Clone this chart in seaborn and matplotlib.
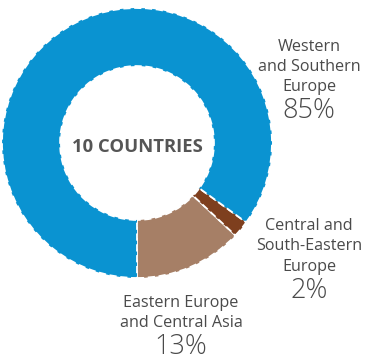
import matplotlib
matplotlib.use("Agg")
import matplotlib.pyplot as plt
import seaborn as sns

# Data
regions = ["Eastern Europe\nand Central Asia", "Central and\nSouth-Eastern\nEurope", "Western\nand Southern\nEurope"]
shares = [13, 2, 85]
pct_labels = ["13%", "2%", "85%"]
colors = ["#A67F66", "#7E3F1E", "#0A93D1"]
center_label = "10 COUNTRIES"

sns.set_theme(style="white")
plt.rcParams['font.family'] = ['Open Sans', 'DejaVu Sans']

W, H = 368, 362
fig = plt.figure(figsize=(W / 100, H / 100), dpi=100)
ax = fig.add_axes([0, 0, 1, 1])

cx, cy, R = 137, 143, 135

def px(x, y):
    return (x - cx) / R, (cy - y) / R

wedges, _ = ax.pie(shares, colors=colors, startangle=270, counterclock=True,
                   radius=1.0,
                   wedgeprops=dict(width=0.43, edgecolor='white', linewidth=1.3,
                                   linestyle=(0, (4, 2))))

ax.set_xlim(-cx / R, (W - cx) / R)
ax.set_ylim(-(H - cy) / R, cy / R)
ax.set_aspect('equal')
ax.axis('off')

tc = "#4A4A4A"
ax.text(*px(137, 147), center_label, ha='center', va='center',
        fontsize=13.3, fontweight='bold', color="#555555")

# label positions (x center, baselines of lines, baseline of percent)
label_pos = [
    (181, [307, 327], 354),
    (309, [230, 250, 271], 298),
    (309, [51, 71, 91], 118),
]
for name, pct, (x, bls, pbl) in zip(regions, pct_labels, label_pos):
    for line, b in zip(name.split("\n"), bls):
        ax.text(*px(x, b), line, ha='center', va='baseline', fontsize=11.6, color=tc)
    ax.text(*px(x, pbl), pct, ha='center', va='baseline', fontsize=19.5,
            color=tc, fontweight='light')

fig.savefig("out.png", dpi=100)
